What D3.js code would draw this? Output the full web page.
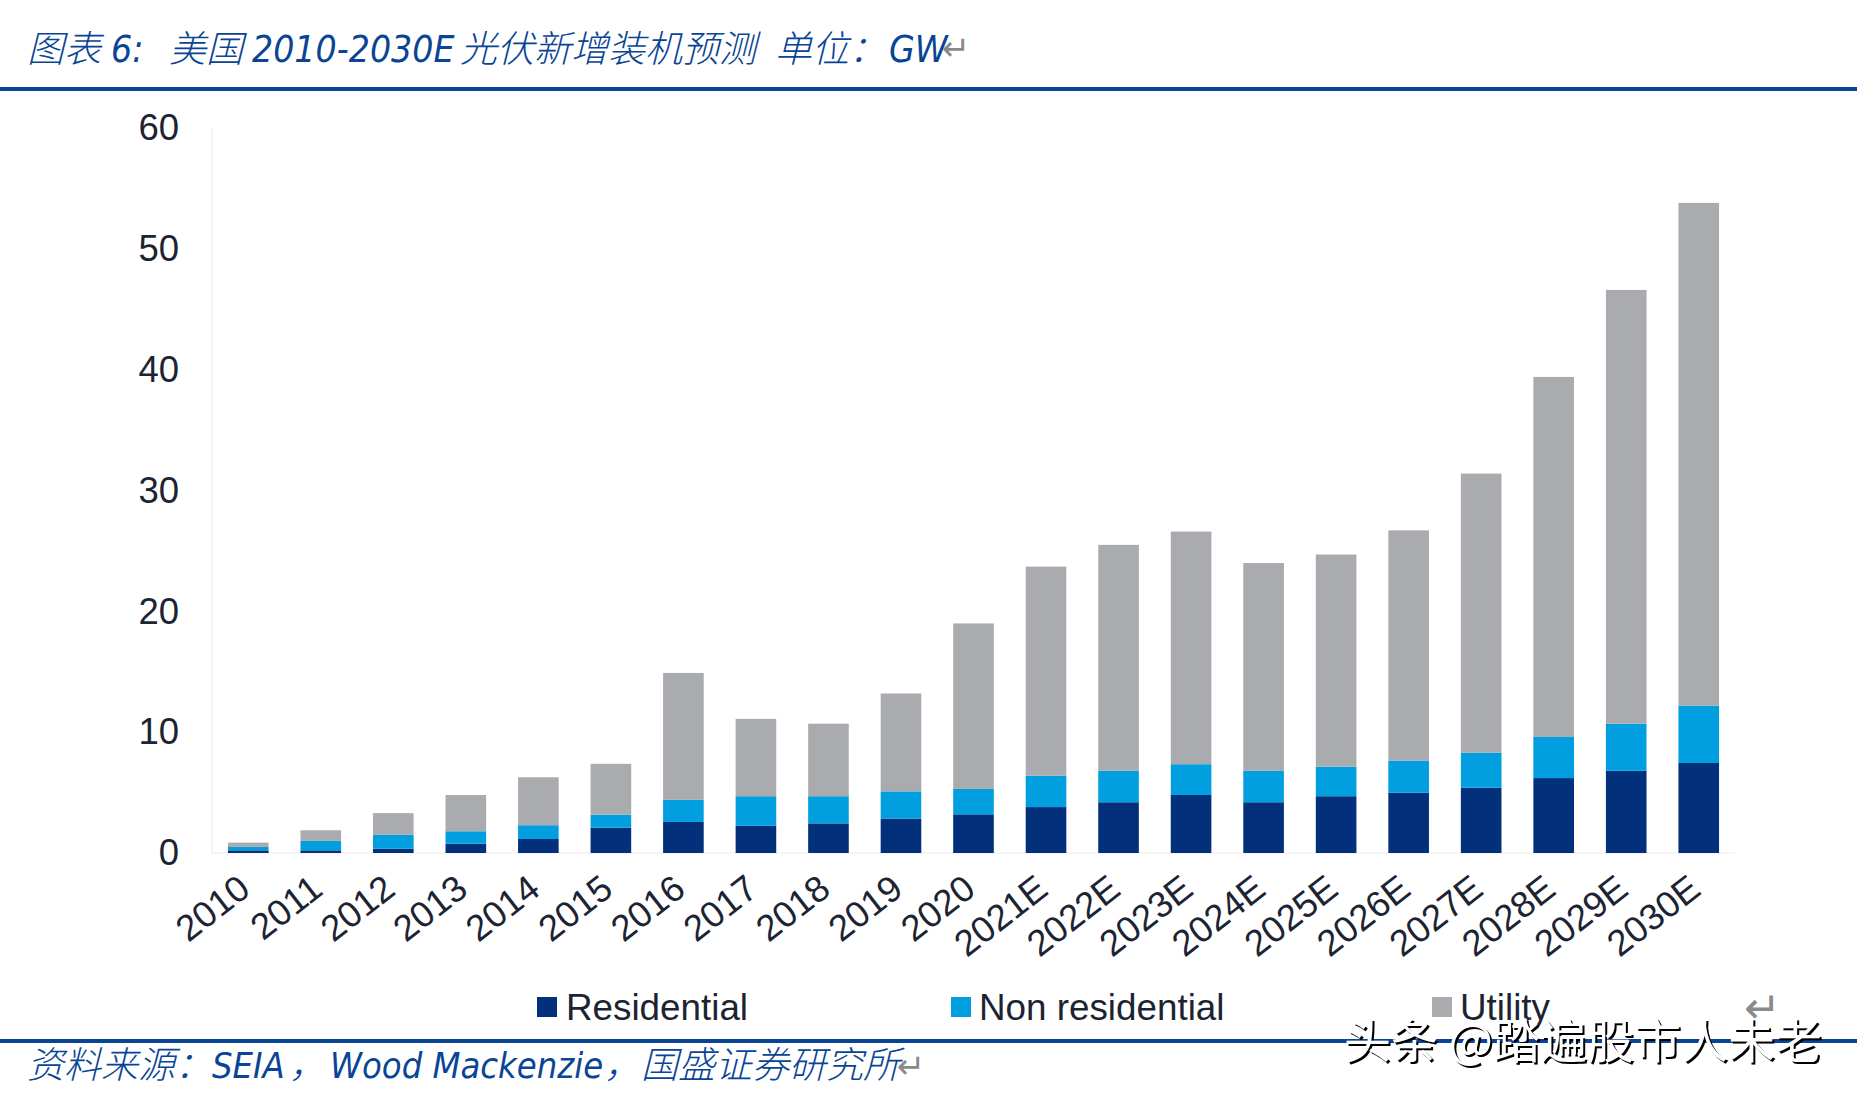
<!DOCTYPE html>
<html><head><meta charset="utf-8">
<script src="https://cdn.jsdelivr.net/npm/d3@7/dist/d3.min.js"></script>
<style>
html,body{margin:0;padding:0;background:#fff;overflow:hidden}
svg{display:block}
.cap{font-style:italic;fill:#0a4595}
.cap.zh{font-family:"Noto Sans CJK SC";font-weight:300}
.cap.en{font-family:"DejaVu Sans Condensed","DejaVu Sans"}
.tick text{font-family:"Liberation Sans",Arial,sans-serif;font-size:36.5px;fill:#1c2433}
</style></head><body>
<svg id="c" width="1857" height="1098"></svg>
<script>
const categories=["2010","2011","2012","2013","2014","2015","2016","2017","2018","2019","2020","2021E","2022E","2023E","2024E","2025E","2026E","2027E","2028E","2029E","2030E"];
const residential=[0.22,0.22,0.36,0.77,1.16,2.1,2.57,2.25,2.45,2.85,3.2,3.8,4.2,4.8,4.2,4.7,5.0,5.4,6.2,6.8,7.45];
const nonResidential=[0.28,0.78,1.14,1.03,1.14,1.08,1.83,2.45,2.25,2.25,2.1,2.6,2.6,2.55,2.6,2.45,2.65,2.9,3.4,3.9,4.75];
const utility=[0.36,0.88,1.8,3.0,3.97,4.2,10.5,6.4,6.0,8.1,13.7,17.3,18.7,19.25,17.2,17.55,19.05,23.1,29.8,35.9,41.6];
const seriesNames=["Residential","Non residential","Utility"];
const seriesColors=["#03307a","#019fe0","#aaabae"];
const yTicks=[0,10,20,30,40,50,60];
const titleRuns=["图表","6:","美国","2010-2030E","光伏新增装机预测","单位：","GW"];
const sourceRuns=["资料来源：","SEIA","，","Wood Mackenzie","，国盛证券研究所"];
const watermark="头条 @踏遍股市人未老";

const titleX=[27,111,169,252,460,775,889], sourceX=[27,212,289,330,604];
const svg=d3.select("#c");
const x=d3.scaleBand().domain(categories).range([212,1735]).paddingInner(0.44).paddingOuter(0.22);
const y=d3.scaleLinear().domain([0,60]).range([853,128]);
const rows=categories.map((c,i)=>({c,r:residential[i],n:nonResidential[i],u:utility[i]}));
const stack=d3.stack().keys(["r","n","u"])(rows);

svg.append("path").attr("d",`M${x.range()[0]},${y(60)}V${y(0)}H${x.range()[1]}`).attr("fill","none").attr("stroke","#f3f3f3").attr("stroke-width",1.5);

svg.append("g").selectAll("g").data(stack).join("g").attr("fill",(d,i)=>seriesColors[i])
 .selectAll("rect").data(d=>d).join("rect")
 .attr("x",d=>x(d.data.c)).attr("width",x.bandwidth())
 .attr("y",d=>y(d[1])).attr("height",d=>y(d[0])-y(d[1]));

const ya=svg.append("g").attr("transform",`translate(${x.range()[0]},0)`).call(d3.axisLeft(y).tickValues(yTicks).tickSize(0).tickPadding(33));
ya.select(".domain").remove();

const xa=svg.append("g").attr("transform",`translate(0,${y(0)})`).call(d3.axisBottom(x).tickSize(0));
xa.select(".domain").remove();
xa.selectAll("text").attr("text-anchor","end").attr("dy",0).attr("y",0).attr("x",0)
 .attr("transform","translate(4,40) rotate(-38)");

const legendSwatchX=[537,951,1432], legendTextX=[566,979,1460], legendY=1007;
const lg=svg.append("g").selectAll("g").data(seriesNames).join("g");
lg.append("rect").attr("x",(d,i)=>legendSwatchX[i]).attr("y",legendY-10).attr("width",20).attr("height",20).attr("fill",(d,i)=>seriesColors[i]);
lg.append("text").attr("x",(d,i)=>legendTextX[i]).attr("y",legendY+13).text(d=>d)
 .attr("font-family","Liberation Sans").attr("font-size",36.8).attr("fill","#1c2433");

svg.append("rect").attr("x",0).attr("y",87).attr("width",1857).attr("height",4).attr("fill","#0a4595");
svg.append("rect").attr("x",0).attr("y",1039).attr("width",1857).attr("height",4).attr("fill","#0a4595");

function cap(runs,xs,yp,fsEn){
  svg.append("g").selectAll("text").data(runs).join("text")
   .attr("class",(d,i)=>"cap "+(/[A-Za-z0-9]/.test(d)?"en":"zh"))
   .attr("x",(d,i)=>xs[i]).attr("y",yp).attr("font-size",d=>/[A-Za-z0-9]/.test(d)?fsEn:37).text(d=>d);
}
function mark(xp,yp,fs){
  svg.append("text").attr("x",xp).attr("y",yp).attr("font-family","DejaVu Sans").attr("font-size",fs).attr("fill","#8a8a8a").text("↵");
}
cap(titleRuns,titleX,62,37);
cap(sourceRuns,sourceX,1078,36);
mark(942,60,34);
mark(897,1078,34);
mark(1744,1023,44);

svg.append("text").attr("x",1344).attr("y",1058).attr("font-family","Noto Sans CJK SC").attr("font-size",47)
 .attr("fill","#fff").style("filter","drop-shadow(2.5px 2.5px 0 #000)").text(watermark);
</script></body></html>
